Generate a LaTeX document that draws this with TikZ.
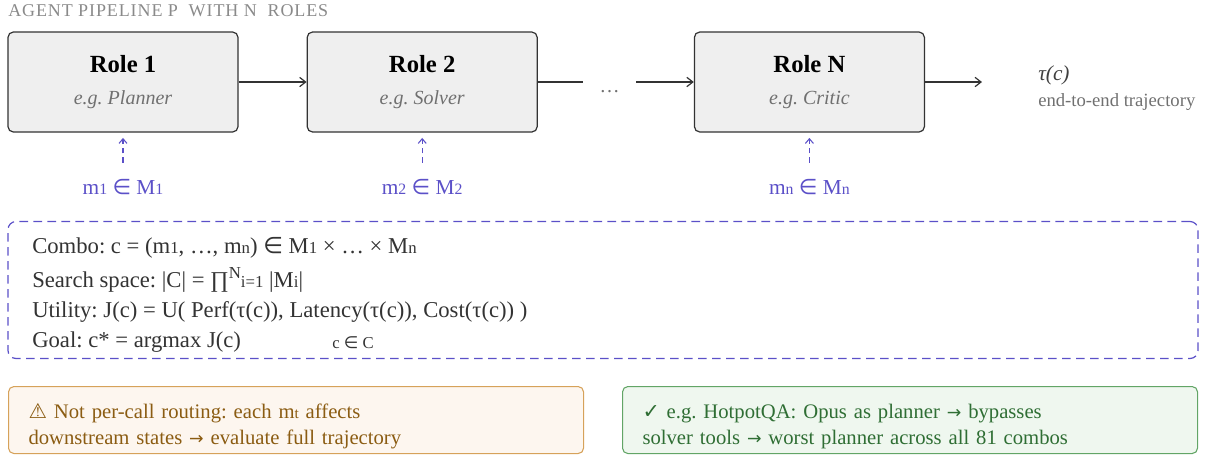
\documentclass[tikz,border=0pt]{standalone}
\usepackage{fontspec}
\setmainfont{Liberation Serif}
\newfontfamily\symfont{DejaVu Sans}
\usetikzlibrary{arrows.meta, positioning}
\definecolor{boxfill}{HTML}{EFEFEF}
\definecolor{boxline}{HTML}{333333}
\definecolor{eggray}{HTML}{707070}
\definecolor{titlegray}{HTML}{8A8A8A}
\definecolor{pick}{HTML}{5B50C8}
\definecolor{warnfill}{HTML}{FDF6EF}
\definecolor{warnline}{HTML}{D6A25A}
\definecolor{warntext}{HTML}{8B5C12}
\definecolor{okfill}{HTML}{EFF7EF}
\definecolor{okline}{HTML}{62A566}
\definecolor{oktext}{HTML}{2F6E34}
\frenchspacing

% small indices sitting on the line, and raised ones
\newcommand{\lo}[1]{\scalebox{0.74}{#1}}
\newcommand{\hi}[1]{\raisebox{0.8ex}{\scalebox{0.74}{#1}}}
\newcommand{\arr}{{\symfont\fontsize{13}{15}\selectfont →}}
\newcommand{\rolename}[1]{{\fontsize{18.5}{24}\selectfont\bfseries #1}}
\newcommand{\roleeg}[1]{{\fontsize{15}{24}\selectfont\itshape\color{eggray}#1}}

\begin{document}
\begin{tikzpicture}[
    x=0.75pt, y=-0.75pt,
    role/.style={draw=boxline, fill=boxfill, line width=0.9pt, rounded corners=4pt,
        minimum width=172.5pt, minimum height=75pt, align=center,
        font=\fontsize{16}{24}\selectfont},
    flow/.style={boxline, line width=0.9pt, -{Straight Barb[length=4.5pt, width=7pt]}},
    choice/.style={pick, line width=0.8pt, dash pattern=on 4pt off 3pt,
        -{Straight Barb[length=3.5pt, width=6pt]}},
    modelset/.style={text=pick, font=\fontsize{16}{19}\selectfont},
    line/.style={anchor=west, inner sep=0pt, font=\fontsize{17}{20}\selectfont, text=black!80},
    note/.style={rounded corners=4pt, line width=0.8pt, anchor=north west,
        minimum width=431.25pt, minimum height=50.25pt, text width=401.25pt,
        inner xsep=15pt, align=left, font=\fontsize{15.5}{19.5}\selectfont},
]
\useasboundingbox (0,0) rectangle (1208,455);

% ---------------------------------------------------------------- pipeline
\node[anchor=west, text=titlegray, inner sep=0pt, font=\fontsize{13.5}{16}\selectfont]
    (title) at (8, 11) {\addfontfeatures{LetterSpace=5}AGENT PIPELINE P\ \ WITH N\ \ ROLES};

\node[role] (role1) at (123, 82) {\rolename{Role 1}\\\roleeg{e.g. Planner}};
\node[role, right=51pt of role1] (role2) {\rolename{Role 2}\\\roleeg{e.g. Solver}};
\node[role, right=117pt of role2] (roleN) {\rolename{Role N}\\\roleeg{e.g. Critic}};

\node[inner sep=0pt, minimum width=39.75pt, text=eggray, font=\fontsize{15}{18}\selectfont,
    yshift=-7pt] (dots) at (609.5, 82) {\dots};
\coordinate (out) at (982, 82);

\draw[flow] (role1) -- (role2);
\draw[boxline, line width=0.9pt] (role2.east) -- (role2.east -| dots.west);
\draw[flow] (roleN.west -| dots.east) -- (roleN);
\draw[flow] (roleN) -- (out);

\node[anchor=west, inner sep=0pt, font=\fontsize{16}{19}\selectfont\itshape, text=black!75]
    (tau) at (1038, 75) {τ(c)};
\node[anchor=west, inner sep=0pt, font=\fontsize{14}{17}\selectfont, text=eggray]
    (traj) at (1038, 102) {end-to-end trajectory};

% the model picked for each role
\node[modelset] (m1) at (role1 |- 0,187) {m\lo{1} {\symfont ∈} M\lo{1}};
\node[modelset] (m2) at (role2 |- 0,187) {m\lo{2} {\symfont ∈} M\lo{2}};
\node[modelset] (mN) at (roleN |- 0,187) {m\lo{n} {\symfont ∈} M\lo{n}};
\foreach \m/\r in {m1/role1, m2/role2, mN/roleN}{
    \draw[choice, shorten <=9pt, shorten >=4pt] (\m.north) -- (\r.south);
}

% ---------------------------------------------------------------- search space
\node[draw=pick, line width=0.9pt, dash pattern=on 6.5pt off 4pt, rounded corners=6pt,
    minimum width=892.5pt, minimum height=102.75pt] (space) at (603, 290) {};

\node[line] (combo) at (32, 248) {Combo: c = (m\lo{1}, …, m\lo{n}) {\symfont ∈} M\lo{1} × … × M\lo{n}};
\node[line] (size) at (32, 280) {Search space: |C| = ∏\hi{N}\lo{i=1} |M\lo{i}|};
\node[line] (util) at (32, 312) {Utility: J(c) = U( Perf(τ(c)), Latency(τ(c)), Cost(τ(c)) )};
\node[line] (goal) at (32, 342) {Goal: c* = argmax J(c)};
\node[line, font=\fontsize{12.5}{15}\selectfont] (under) at (332, 343) {c {\symfont ∈} C};

% ---------------------------------------------------------------- notes
\node[note, draw=warnline, fill=warnfill, text=warntext] (warn) at (8, 386)
    {\rule{0pt}{20pt}{\symfont ⚠} Not per-call routing: each m\lo{t} affects\\
     downstream states \arr{} evaluate full trajectory};
\node[note, draw=okline, fill=okfill, text=oktext] (ok) at (622, 386)
    {\rule{0pt}{20pt}{\symfont ✓} e.g. HotpotQA: Opus as planner \arr{} bypasses\\
     solver tools \arr{} worst planner across all 81 combos};
\end{tikzpicture}
\end{document}
